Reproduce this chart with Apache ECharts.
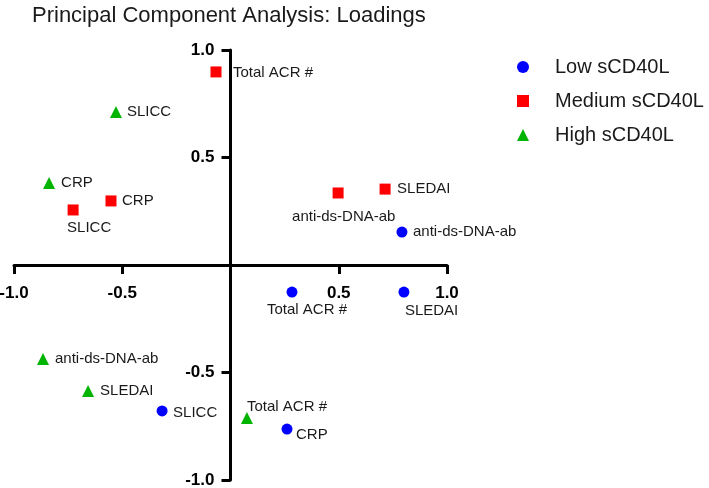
<!DOCTYPE html>
<html>
<head>
<meta charset="utf-8">
<script src="https://cdn.jsdelivr.net/npm/echarts@6/dist/echarts.min.js"></script>
<style>
html,body{margin:0;padding:0;background:#fff;}
#chart{width:709px;height:488px;}
</style>
</head>
<body>
<div id="chart"></div>
<script>
// ---- data ----
const seriesNames = ['Low sCD40L', 'Medium sCD40L', 'High sCD40L'];
const lowLabels = ['anti-ds-DNA-ab', 'Total ACR #', 'SLEDAI', 'SLICC', 'CRP'];
const lowX = [0.792, 0.284, 0.801, -0.316, 0.261];
const lowY = [0.153, -0.126, -0.126, -0.679, -0.763];
const medLabels = ['Total ACR #', 'CRP', 'SLICC', 'anti-ds-DNA-ab', 'SLEDAI'];
const medX = [-0.067, -0.552, -0.727, 0.497, 0.714];
const medY = [0.898, 0.298, 0.256, 0.335, 0.353];
const highLabels = ['SLICC', 'CRP', 'anti-ds-DNA-ab', 'SLEDAI', 'Total ACR #'];
const highX = [-0.529, -0.838, -0.866, -0.658, 0.076];
const highY = [0.712, 0.381, -0.437, -0.586, -0.712];
const tickLabels = ['-1.0', '-0.5', '', '0.5', '1.0'];

// ---- label placement (style, pixel offsets from marker centre) ----
const labelOffsets = {
  low: [[11, 0], [-25, 18], [1, 19], [11, 2], [9, 6]],
  med: [[17, 1], [11, 0], [-6, 18], [-46, 24], [12, 0]],
  high: [[11, 0], [12, 0], [12, 0], [12, 0], [0, -11]]
};

function build(xs, ys, names, offs) {
  return xs.map((x, i) => ({
    value: [x, ys[i]],
    name: names[i],
    label: { offset: offs[i] }
  }));
}

const FONT = '"Liberation Sans", Arial, Helvetica, sans-serif';
const labelBase = {
  show: true,
  position: 'inside',
  align: 'left',
  verticalAlign: 'middle',
  formatter: p => p.name,
  fontFamily: FONT,
  fontSize: 15,
  color: '#1a1a1a'
};

function fmtTick(v) {
  const idx = Math.round((Number(v) + 1) / 0.5);
  return tickLabels[idx] !== undefined ? tickLabels[idx] : '';
}

function axisCommon(isX) {
  return {
    type: 'value',
    position: isX ? 'bottom' : 'left',
    offset: isX ? -215 : -216.5,
    min: -1,
    max: 1,
    interval: 0.5,
    splitLine: { show: false },
    axisLine: { show: true, onZero: false, lineStyle: { color: '#000', width: 3 } },
    axisTick: { show: true, inside: false, length: 9, lineStyle: { color: '#000', width: 3 } },
    axisLabel: {
      show: true,
      margin: isX ? 20 : 16,
      fontFamily: FONT,
      fontWeight: 'bold',
      fontSize: 17,
      color: '#000',
      formatter: fmtTick
    }
  };
}

const chart = echarts.init(document.getElementById('chart'), null, { renderer: 'canvas' });
chart.setOption({
  backgroundColor: '#fff',
  animation: false,
  title: {
    text: 'Principal Component Analysis: Loadings',
    left: 27,
    top: 0,
    textStyle: { fontFamily: FONT, fontWeight: 'normal', fontSize: 22, color: '#1a1a1a' }
  },
  legend: {
    orient: 'vertical',
    left: 512,
    top: 52,
    itemWidth: 12,
    itemHeight: 12,
    itemGap: 14,
    textStyle: { fontFamily: FONT, fontSize: 20, lineHeight: 20, color: '#1a1a1a', padding: [0, 0, 0, 21] },
    data: seriesNames
  },
  grid: { left: 14, right: 262, top: 50, bottom: 8, containLabel: false, outerBoundsMode: 'none' },
  xAxis: axisCommon(true),
  yAxis: axisCommon(false),
  series: [
    {
      name: seriesNames[0], type: 'scatter', symbol: 'circle', symbolSize: 11,
      itemStyle: { color: '#0000ff', opacity: 1 },
      label: labelBase,
      data: build(lowX, lowY, lowLabels, labelOffsets.low)
    },
    {
      name: seriesNames[1], type: 'scatter', symbol: 'rect', symbolSize: 11,
      itemStyle: { color: '#ff0000', opacity: 1 },
      label: labelBase,
      data: build(medX, medY, medLabels, labelOffsets.med)
    },
    {
      name: seriesNames[2], type: 'scatter', symbol: 'triangle', symbolSize: 12,
      itemStyle: { color: '#00b400', opacity: 1 },
      label: labelBase,
      data: build(highX, highY, highLabels, labelOffsets.high)
    }
  ]
});
</script>
</body>
</html>
